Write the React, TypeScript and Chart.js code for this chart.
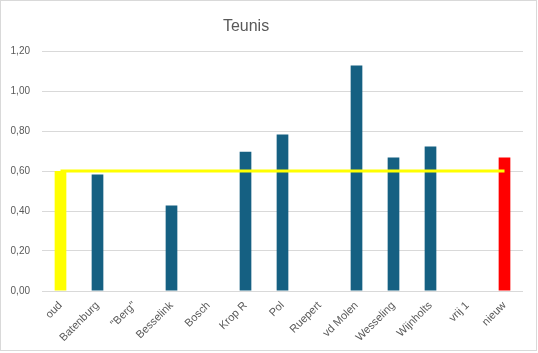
import React, { useEffect, useRef } from "react";
import { Chart, registerables } from "chart.js";

Chart.register(...registerables);

const titleText = "Teunis";
const categories = ["oud", "Batenburg", "\"Berg\"", "Besselink", "Bosch", "Krop R", "Pol", "Ruepert", "vd Molen", "Wesseling", "Wijnholts", "vrij 1", "nieuw"];
const barValues: (number | null)[] = [0.6, 0.583, null, 0.427, null, 0.696, 0.783, null, 1.128, 0.667, 0.722, null, 0.667];
const refLine = [0.6, 0.6, 0.6, 0.6, 0.6, 0.6, 0.6, 0.6, 0.6, 0.6, 0.6, 0.6, 0.6];
const barColors = ["#FFFF00", "#156082", "#156082", "#156082", "#156082", "#156082", "#156082", "#156082", "#156082", "#156082", "#156082", "#156082", "#FF0000"];
const yTicks = [0, 0.2, 0.4, 0.6, 0.8, 1.0, 1.2];

const FONT = "'Liberation Sans', Arial, sans-serif";

export default function App() {
  const ref = useRef<HTMLCanvasElement | null>(null);
  useEffect(() => {
    document.body.style.margin = "0";
    const decorPlugin = {
      id: "decor",
      afterDraw(chart: any) {
        const c = chart.ctx;
        c.save();
        c.strokeStyle = "#d9d9d9";
        c.lineWidth = 1;
        c.strokeRect(0.5, 0.5, 536, 350);
        c.fillStyle = "#595959";
        c.font = `16px ${FONT}`;
        c.textAlign = "center";
        c.textBaseline = "middle";
        c.fillText(titleText, 246, 27);
        c.restore();
      },
    };
    const chart = new Chart(ref.current!, {
      type: "bar",
      data: {
        labels: categories,
        datasets: [
          {
            type: "line" as any,
            data: refLine,
            borderColor: "#FFFF00",
            borderWidth: 3,
            pointRadius: 0,
            fill: false,
            order: 0,
          } as any,
          {
            type: "bar",
            data: barValues,
            backgroundColor: barColors,
            categoryPercentage: 1,
            barPercentage: 0.316,
            order: 1,
          },
        ],
      },
      options: {
        animation: false,
        responsive: true,
        maintainAspectRatio: false,
        layout: { padding: { left: 0, right: 15, top: 51, bottom: 0 } },
        plugins: {
          legend: { display: false },
          tooltip: { enabled: false },
          title: { display: false },
        },
        scales: {
          x: {
            grid: { display: false, drawTicks: false },
            border: { display: false },
            ticks: {
              color: "#595959",
              font: { family: FONT, size: 11 },
              maxRotation: 45,
              minRotation: 45,
              autoSkip: false,
              padding: 8,
            },
            afterFit: (s: any) => { s.height = 62; },
          },
          y: {
            min: 0,
            max: 1.2,
            grid: { color: "#d9d9d9", lineWidth: 1, drawTicks: false },
            border: { display: false },
            afterBuildTicks: (s: any) => { s.ticks = yTicks.map((v) => ({ value: v })); },
            ticks: {
              color: "#595959",
              font: { family: FONT, size: 10 },
              padding: 12,
              callback: (v: any) => Number(v).toFixed(2).replace(".", ","),
            },
            afterFit: (s: any) => { s.width = 42; },
          },
        },
      },
      plugins: [decorPlugin],
    });
    return () => chart.destroy();
  }, []);
  return (
    <div style={{ width: 538, height: 353, position: "relative" }}>
      <canvas ref={ref} />
    </div>
  );
}
